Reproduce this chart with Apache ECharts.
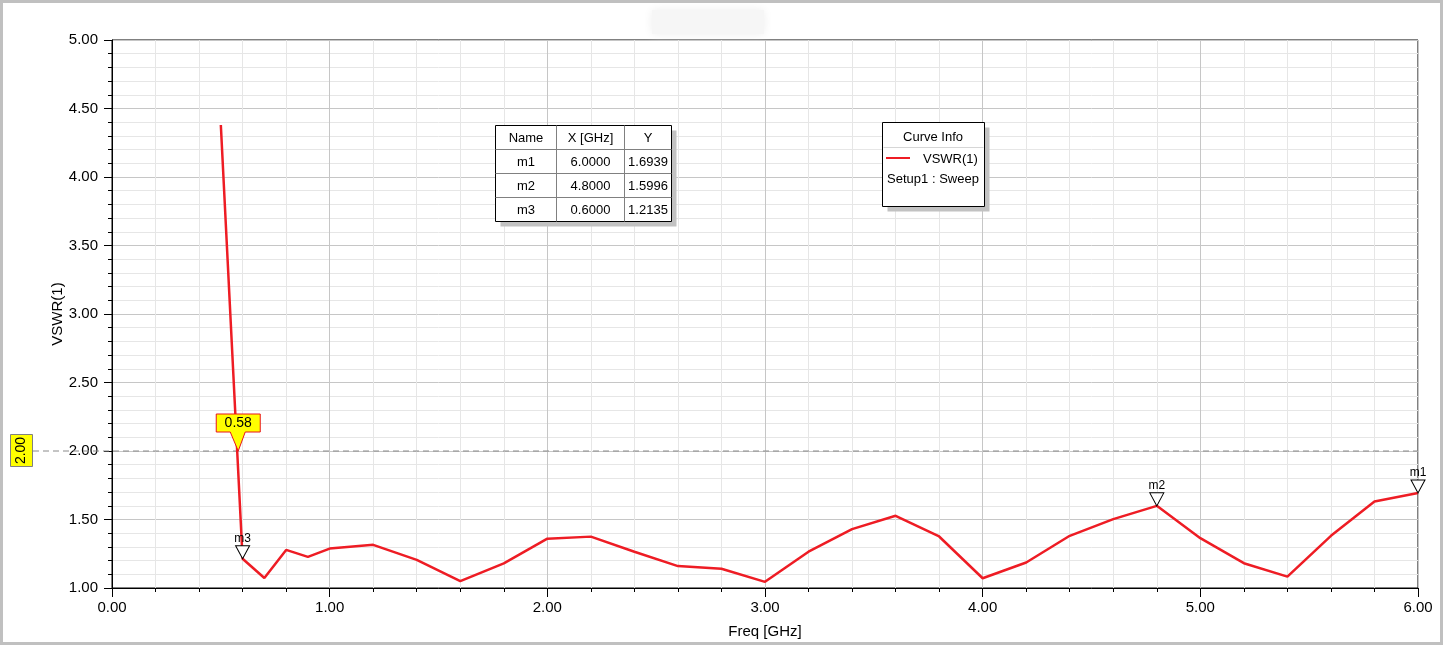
<!DOCTYPE html>
<html><head><meta charset="utf-8">
<script src="https://cdn.jsdelivr.net/npm/echarts@6/dist/echarts.min.js"></script>
<style>html,body{margin:0;padding:0;background:#fff}#c{width:1444px;height:646px}</style>
</head><body><div id="c"></div>
<script>
// ---- data ----
const freqGHz = [0.5,0.6,0.7,0.8,0.9,1.0,1.2,1.4,1.6,1.8,2.0,2.2,2.4,2.6,2.8,3.0,3.2,3.4,3.6,3.8,4.0,4.2,4.4,4.6,4.8,5.0,5.2,5.4,5.6,5.8,6.0];
const vswr    = [4.38,1.2135,1.073,1.278,1.227,1.288,1.315,1.205,1.05,1.18,1.36,1.375,1.265,1.16,1.14,1.045,1.265,1.43,1.527,1.376,1.071,1.186,1.381,1.503,1.5996,1.364,1.181,1.083,1.381,1.632,1.6939];
const markerNames = ['m1','m2','m3'];
const markerX = [6.0, 4.8, 0.6];
const markerY = [1.6939, 1.5996, 1.2135];
const tableHeader = ['Name','X [GHz]','Y'];
const refLevel = 2.0;
const refLabel = '2.00';
const crossX = 0.58;
const crossLabel = '0.58';
const xAxisName = 'Freq [GHz]';
const yAxisName = 'VSWR(1)';
const curveName = 'VSWR(1)';
const setupName = 'Setup1 : Sweep';
const legendTitle = 'Curve Info';

const FONT = '"Liberation Sans", Arial, sans-serif';
const RED = '#ee1c24';

const chart = echarts.init(document.getElementById('c'), null, {renderer:'canvas'});
const option = {
  animation: false,
  backgroundColor: '#fff',
  grid: {left:112, right:26, top:40, bottom:58, show:true, borderColor:'#000', borderWidth:1, backgroundColor:'transparent'},
  xAxis: {
    type:'value', min:0, max:6, interval:1,
    name:xAxisName, nameLocation:'middle', nameGap:36, nameMoveOverlap:false,
    nameTextStyle:{fontFamily:FONT, fontSize:15, color:'#000'},
    axisLine:{show:true, lineStyle:{color:'#000', width:1}},
    axisTick:{show:true, length:9, lineStyle:{color:'#000'}},
    minorTick:{show:true, splitNumber:5, length:4, lineStyle:{color:'#000'}},
    axisLabel:{fontFamily:FONT, fontSize:15, color:'#000', margin:12, formatter:v=>v.toFixed(2)},
    splitLine:{show:true, lineStyle:{color:'#c6c6c6', width:1}},
    minorSplitLine:{show:true, lineStyle:{color:'#e6e6e6', width:1}}
  },
  yAxis: {
    type:'value', min:1, max:5, interval:0.5,
    name:yAxisName, nameLocation:'middle', nameGap:47, nameRotate:90, nameMoveOverlap:false,
    nameTextStyle:{fontFamily:FONT, fontSize:15, color:'#000'},
    axisLine:{show:true, lineStyle:{color:'#000', width:1}},
    axisTick:{show:true, length:8, lineStyle:{color:'#000'}},
    minorTick:{show:true, splitNumber:5, length:4, lineStyle:{color:'#000'}},
    axisLabel:{fontFamily:FONT, fontSize:15, color:'#000', margin:14, padding:[6,0,0,0], formatter:v=>v.toFixed(2)},
    splitLine:{show:true, lineStyle:{color:'#c6c6c6', width:1}},
    minorSplitLine:{show:true, lineStyle:{color:'#e6e6e6', width:1}}
  },
  series: [{
    type:'line', name:curveName,
    data: freqGHz.map((x,i)=>[x, vswr[i]]),
    showSymbol:false, symbol:'none',
    lineStyle:{color:RED, width:2.5},
    z:3,
    markPoint:{
      silent:true,
      symbol:'path://M0,0L14,0L7,13Z',
      symbolSize:[14,13],
      symbolOffset:[0,'-50%'],
      itemStyle:{color:'#fff', borderColor:'#000', borderWidth:1},
      label:{show:true, position:'top', distance:1, formatter:'{b}', color:'#000', fontSize:12, fontFamily:FONT},
      data: markerNames.map((n,i)=>({name:n, coord:[markerX[i], markerY[i]]}))
    }
  }]
};
chart.setOption(option);

const pc = chart.convertToPixel({gridIndex:0}, [crossX, refLevel]);
const pr = chart.convertToPixel({gridIndex:0}, [6, refLevel]);
const cx = pc[0], pY = pc[1], xr = pr[0];

const g = [];
// outer frame
g.push({type:'rect', z:20, silent:true, shape:{x:1.5,y:1.5,width:1440,height:642}, style:{fill:null, stroke:'#c0c0c0', lineWidth:3}});
g.push({type:'rect', z:0, silent:true, shape:{x:652,y:10,width:112,height:24}, style:{fill:'#f6f6f6', shadowBlur:10, shadowColor:'#eeeeee'}});
// reference dashed line
g.push({type:'line', z:1, silent:true, shape:{x1:33,y1:pY,x2:xr,y2:pY}, style:{stroke:'#8a8a8a', lineWidth:1, lineDash:[6,4]}});
// y reference box
g.push({type:'rect', z:10, silent:true, shape:{x:10.5,y:pY-16.5,width:22,height:32}, style:{fill:'#ffff00', stroke:'#808080', lineWidth:1}});
g.push({type:'text', z:11, silent:true, x:21.5, y:pY-0.5, rotation:Math.PI/2, style:{text:refLabel, fill:'#000', font:'14px '+FONT, align:'center', verticalAlign:'middle'}});
// crossing flag
g.push({type:'polygon', z:10, silent:true, shape:{points:[[cx-22,pY-37],[cx+22,pY-37],[cx+22,pY-19],[cx+7,pY-19],[cx,pY],[cx-8,pY-19],[cx-22,pY-19]]}, style:{fill:'#ffff00', stroke:'#e8141c', lineWidth:1}});
g.push({type:'text', z:11, silent:true, x:cx, y:pY-28, style:{text:crossLabel, fill:'#000', font:'14px '+FONT, align:'center', verticalAlign:'middle'}});

// marker table
const tx=495.5, ty=125.5, tw=176, th=96;
const colX=[tx, 556.5, 624.5, tx+tw];
const rowH=24;
g.push({type:'rect', z:9, silent:true, shape:{x:tx+5,y:ty+5,width:tw,height:th}, style:{fill:'#c2c2c2'}});
g.push({type:'rect', z:10, silent:true, shape:{x:tx,y:ty,width:tw,height:th}, style:{fill:'#fff', stroke:'#000', lineWidth:1}});
[1,2].forEach(c=>g.push({type:'line', z:11, silent:true, shape:{x1:colX[c],y1:ty,x2:colX[c],y2:ty+th}, style:{stroke:'#808080', lineWidth:1}}));
[1,2,3].forEach(r=>g.push({type:'line', z:11, silent:true, shape:{x1:tx,y1:ty+r*rowH,x2:tx+tw,y2:ty+r*rowH}, style:{stroke:'#808080', lineWidth:1}}));
const rows=[tableHeader].concat(markerNames.map((n,i)=>[n, markerX[i].toFixed(4), markerY[i].toFixed(4)]));
rows.forEach((r,ri)=>r.forEach((t,ci)=>{
  g.push({type:'text', z:12, silent:true, x:(colX[ci]+colX[ci+1])/2, y:ty+ri*rowH+rowH/2+1, style:{text:t, fill:'#000', font:'13px '+FONT, align:'center', verticalAlign:'middle'}});
}));

// curve info box
const lx=882.5, ly=122.5, lw=102, lh=84;
g.push({type:'rect', z:9, silent:true, shape:{x:lx+5,y:ly+5,width:lw,height:lh}, style:{fill:'#c2c2c2'}});
g.push({type:'rect', z:10, silent:true, shape:{x:lx,y:ly,width:lw,height:lh}, style:{fill:'#fff', stroke:'#000', lineWidth:1}});
g.push({type:'line', z:11, silent:true, shape:{x1:lx+1,y1:147.5,x2:lx+lw-1,y2:147.5}, style:{stroke:'#d6d6d6', lineWidth:1}});
g.push({type:'text', z:12, silent:true, x:933, y:137, style:{text:legendTitle, fill:'#000', font:'13px '+FONT, align:'center', verticalAlign:'middle'}});
g.push({type:'line', z:12, silent:true, shape:{x1:886,y1:158,x2:910,y2:158}, style:{stroke:RED, lineWidth:2}});
g.push({type:'text', z:12, silent:true, x:923, y:159, style:{text:curveName, fill:'#000', font:'13px '+FONT, align:'left', verticalAlign:'middle'}});
g.push({type:'text', z:12, silent:true, x:933, y:179, style:{text:setupName, fill:'#000', font:'13px '+FONT, align:'center', verticalAlign:'middle'}});

chart.setOption({graphic: g});
</script>
</body></html>
